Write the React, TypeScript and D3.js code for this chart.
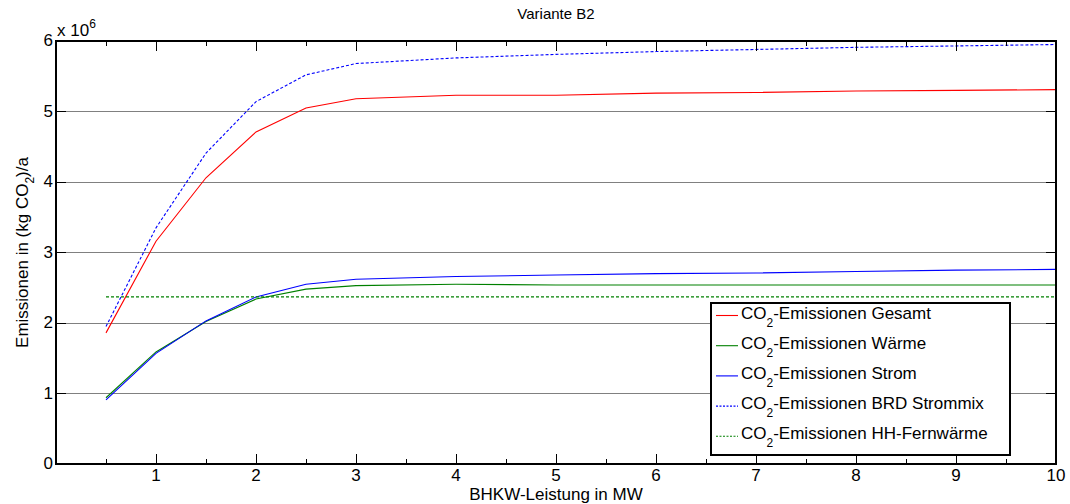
import React, { useEffect, useRef } from "react";
import * as d3 from "d3";

const xs = [0.5, 1, 1.5, 2, 2.5, 3, 4, 5, 6, 7, 8, 9, 10];
const gesamt = [1.86, 3.16, 4.06, 4.71, 5.05, 5.18, 5.23, 5.23, 5.26, 5.27, 5.29, 5.3, 5.31];
const waerme = [0.94, 1.59, 2.02, 2.34, 2.48, 2.53, 2.55, 2.54, 2.54, 2.54, 2.54, 2.54, 2.54];
const strom = [0.91, 1.57, 2.03, 2.37, 2.55, 2.62, 2.66, 2.68, 2.7, 2.71, 2.73, 2.75, 2.76];
const brdStrommix = [1.95, 3.35, 4.41, 5.14, 5.52, 5.68, 5.76, 5.81, 5.85, 5.88, 5.91, 5.93, 5.95];
const hhFernwaerme = [2.37, 2.37, 2.37, 2.37, 2.37, 2.37, 2.37, 2.37, 2.37, 2.37, 2.37, 2.37, 2.37];

const xTicks = [1, 2, 3, 4, 5, 6, 7, 8, 9, 10];
const xMinorTicks = [0.5, 1.5, 2.5, 3.5, 4.5, 5.5, 6.5, 7.5, 8.5, 9.5];
const yTicks = [0, 1, 2, 3, 4, 5, 6];

const seriesNames = ["Gesamt", "Wärme", "Strom", "BRD Strommix", "HH-Fernwärme"];
const seriesColors = ["#ff0000", "#008000", "#0000ff", "#0000ff", "#008000"];
const seriesDash = [null, null, null, "3,2", "3,2"];
const seriesData = [gesamt, waerme, strom, brdStrommix, hhFernwaerme];

const W = 1070;
const H = 504;
const FONT = "'Liberation Sans', Arial, sans-serif";

export default function App() {
  const ref = useRef<SVGSVGElement>(null);
  useEffect(() => {
    const svg = d3.select(ref.current);
    svg.selectAll("*").remove();
    const x = d3.scaleLinear().domain([0, 10]).range([56, 1056]);
    const y = d3.scaleLinear().domain([0, 6]).range([464, 41]);
    const [x0, x1] = x.range();
    const [y0, y1] = y.range();

    svg.append("rect").attr("width", W).attr("height", H).attr("fill", "#fff");

    // gridlines
    svg.append("g").selectAll("line").data(yTicks.filter((t) => t > 0 && t < 6)).join("line")
      .attr("x1", x0).attr("x2", x1).attr("y1", (d) => y(d)).attr("y2", (d) => y(d))
      .attr("stroke", "#808080").attr("stroke-width", 1).attr("shape-rendering", "crispEdges");

    // lines
    const line = d3.line<number>().x((_, i) => x(xs[i])).y((d) => y(d));
    seriesData.forEach((data, k) => {
      const p = svg.append("path").attr("d", line(data)!).attr("fill", "none")
        .attr("stroke", seriesColors[k]).attr("stroke-width", 1.1);
      if (seriesDash[k]) p.attr("stroke-dasharray", seriesDash[k]!);
    });

    // axes box
    svg.append("rect").attr("x", x0).attr("y", y1).attr("width", x1 - x0).attr("height", y0 - y1)
      .attr("fill", "none").attr("stroke", "#000").attr("stroke-width", 1.3).attr("shape-rendering", "crispEdges");

    const tk = svg.append("g").attr("stroke", "#000").attr("stroke-width", 1).attr("shape-rendering", "crispEdges");
    xTicks.forEach((t) => {
      tk.append("line").attr("x1", x(t)).attr("x2", x(t)).attr("y1", y0).attr("y2", y0 - 10);
      tk.append("line").attr("x1", x(t)).attr("x2", x(t)).attr("y1", y1).attr("y2", y1 + 10);
    });
    xMinorTicks.forEach((t) => {
      tk.append("line").attr("x1", x(t)).attr("x2", x(t)).attr("y1", y0).attr("y2", y0 - 5);
      tk.append("line").attr("x1", x(t)).attr("x2", x(t)).attr("y1", y1).attr("y2", y1 + 5);
    });
    yTicks.forEach((t) => {
      tk.append("line").attr("x1", x0).attr("x2", x0 + 10).attr("y1", y(t)).attr("y2", y(t));
      tk.append("line").attr("x1", x1).attr("x2", x1 - 10).attr("y1", y(t)).attr("y2", y(t));
    });

    const txt = svg.append("g").attr("font-family", FONT).attr("font-size", 17).attr("fill", "#000");
    xTicks.forEach((t) => {
      txt.append("text").attr("x", x(t)).attr("y", y0 + 17).attr("text-anchor", "middle").text(String(t));
    });
    yTicks.forEach((t) => {
      txt.append("text").attr("x", x0 - 3).attr("y", y(t) + 5).attr("text-anchor", "end").text(String(t));
    });

    // exponent
    const ex = txt.append("text").attr("x", x0 + 1).attr("y", 36);
    ex.append("tspan").text("x 10");
    ex.append("tspan").attr("font-size", 12).attr("dy", -8).text("6");

    // title
    txt.append("text").attr("x", (x0 + x1) / 2).attr("y", 19).attr("text-anchor", "middle").attr("font-size", 15).text("Variante B2");
    // x label
    txt.append("text").attr("x", (x0 + x1) / 2).attr("y", 500).attr("text-anchor", "middle").text("BHKW-Leistung in MW");
    // y label
    const yl = txt.append("text").attr("transform", `translate(28,${(y0 + y1) / 2}) rotate(-90)`).attr("text-anchor", "middle");
    yl.append("tspan").text("Emissionen in (kg CO");
    yl.append("tspan").attr("font-size", 12).attr("dy", 6).text("2");
    yl.append("tspan").attr("dy", -6).text(")/a");

    // legend
    const lg = svg.append("g");
    lg.append("rect").attr("x", 711).attr("y", 303).attr("width", 299).attr("height", 152)
      .attr("fill", "#fff").attr("stroke", "#000").attr("stroke-width", 1.3).attr("shape-rendering", "crispEdges");
    seriesNames.forEach((name, k) => {
      const cy = 315.5 + k * 30.2;
      const l = lg.append("line").attr("x1", 716).attr("x2", 738).attr("y1", cy).attr("y2", cy)
        .attr("stroke", seriesColors[k]).attr("stroke-width", 1.1);
      if (seriesDash[k]) l.attr("stroke-dasharray", "2,1.5");
      const t = lg.append("text").attr("x", 741).attr("y", cy + 3).attr("font-family", FONT).attr("font-size", 17);
      t.append("tspan").text("CO");
      t.append("tspan").attr("font-size", 12).attr("dy", 8).text("2");
      t.append("tspan").attr("dy", -8).text("-Emissionen " + name);
    });
  }, []);
  return (
    <svg ref={ref} width={W} height={H} style={{ position: "absolute", left: 0, top: 0, display: "block" }} />
  );
}
